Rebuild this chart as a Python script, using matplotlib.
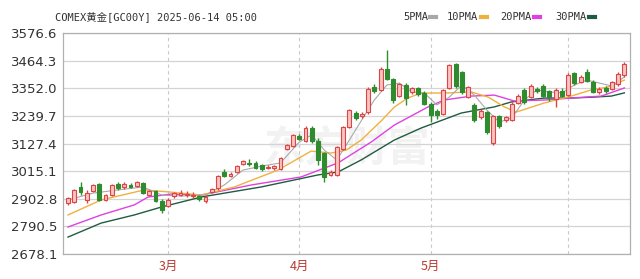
import matplotlib
matplotlib.use("Agg")
import matplotlib.pyplot as plt
from matplotlib.lines import Line2D
import numpy as np

# daily candles (index 0 = first visible day)
opens = [2885, 2890, 2951, 2898, 2934, 2962, 2898, 2918, 2963, 2950,
         2960, 2955, 2966, 2918, 2934, 2895, 2872, 2915, 2920, 2918,
         2915, 2915, 2892, 2930, 2945, 3010, 2996, 3012, 3043, 3048,
         3050, 3040, 3028, 3028, 3026, 3105, 3118, 3160, 3140, 3190,
         3140, 3090, 3000, 3000, 3105, 3195, 3252, 3238, 3256, 3360,
         3345, 3430, 3390, 3322, 3368, 3338, 3355, 3332, 3290, 3262,
         3250, 3354, 3450, 3420, 3318, 3284, 3235, 3256, 3130, 3238,
         3222, 3225, 3292, 3345, 3318, 3350, 3362, 3340, 3308, 3340,
         3325, 3415, 3380, 3420, 3380, 3336, 3352, 3350, 3370, 3406]
highs = [2912, 2943, 2972, 2939, 2963, 2966, 2922, 2963, 2970, 2973,
         2966, 2976, 2972, 2940, 2940, 2900, 2905, 2930, 2939, 2935,
         2932, 2920, 2918, 2946, 3000, 3024, 3010, 3042, 3060, 3065,
         3057, 3045, 3040, 3040, 3075, 3126, 3166, 3168, 3200, 3198,
         3152, 3095, 3020, 3118, 3200, 3268, 3262, 3256, 3356, 3370,
         3438, 3508, 3396, 3375, 3374, 3356, 3360, 3340, 3295, 3270,
         3350, 3452, 3456, 3425, 3362, 3292, 3268, 3262, 3246, 3244,
         3240, 3296, 3330, 3352, 3372, 3356, 3370, 3346, 3352, 3352,
         3414, 3420, 3408, 3430, 3386, 3356, 3364, 3384, 3418, 3460]
lows = [2876, 2886, 2918, 2885, 2930, 2894, 2894, 2914, 2938, 2944,
        2946, 2950, 2924, 2914, 2888, 2846, 2868, 2908, 2914, 2912,
        2908, 2893, 2886, 2926, 2940, 2993, 2992, 3008, 3040, 3038,
        3026, 3016, 3024, 3022, 3022, 3100, 3112, 3142, 3135, 3128,
        3042, 2970, 2995, 2996, 3100, 3190, 3225, 3232, 3250, 3334,
        3340, 3385, 3293, 3318, 3284, 3330, 3322, 3285, 3215, 3228,
        3244, 3348, 3355, 3330, 3312, 3215, 3228, 3168, 3122, 3192,
        3216, 3220, 3288, 3288, 3312, 3334, 3316, 3300, 3278, 3318,
        3320, 3366, 3374, 3378, 3332, 3330, 3334, 3346, 3364, 3400]
closes = [2905, 2939, 2931, 2926, 2959, 2898, 2918, 2959, 2945, 2962,
          2952, 2970, 2928, 2936, 2892, 2858, 2897, 2925, 2926, 2924,
          2920, 2900, 2910, 2942, 2995, 2997, 3003, 3036, 3056, 3045,
          3030, 3025, 3033, 3035, 3070, 3122, 3162, 3148, 3190, 3140,
          3060, 2990, 3012, 3113, 3195, 3264, 3232, 3250, 3350, 3340,
          3432, 3390, 3305, 3370, 3312, 3352, 3330, 3290, 3244, 3246,
          3345, 3446, 3362, 3336, 3358, 3224, 3260, 3175, 3240, 3200,
          3234, 3290, 3323, 3295, 3362, 3340, 3322, 3316, 3345, 3322,
          3405, 3374, 3398, 3384, 3338, 3348, 3340, 3378, 3412, 3452]

# moving average lines, read at sample points (x = candle index)
ma5_x = [0, 4, 8, 12, 15, 18, 22, 25, 28, 31, 34, 37, 39, 41, 43, 45, 47, 49,
         51, 53, 55, 57, 59, 61, 63, 65, 67, 69, 71, 73, 75, 77, 79, 81, 83,
         85, 87, 89]
ma5_y = [2898, 2926, 2939, 2951, 2918, 2914, 2918, 2959, 3020, 3036, 3049,
         3134, 3163, 3101, 3061, 3142, 3224, 3305, 3366, 3374, 3338, 3334,
         3285, 3317, 3366, 3325, 3264, 3215, 3232, 3305, 3346, 3338, 3334,
         3366, 3386, 3374, 3362, 3399]
ma10_x = [0, 5.3, 12.2, 16, 21.3, 26.6, 33.6, 38.9, 42.1, 44.5, 46.9, 50.1,
          52.2, 54.3, 56.5, 60.8, 64.5, 67.2, 69.8, 71.7, 76.2, 80.5, 83.7,
          86.4, 89]
ma10_y = [2837, 2898, 2939, 2931, 2918, 2951, 3020, 3097, 3089, 3101, 3142,
          3220, 3276, 3313, 3333, 3334, 3338, 3317, 3277, 3256, 3293, 3321,
          3346, 3358, 3386]
ma20_x = [0, 5.3, 10.6, 12.8, 16.5, 21.3, 29.3, 37.3, 43.2, 48.5, 52.2, 57.6,
          60.2, 64.5, 68.2, 71.4, 76.2, 80.5, 85.3, 89]
ma20_y = [2788, 2837, 2878, 2910, 2922, 2918, 2959, 2992, 3049, 3134, 3203,
          3277, 3305, 3321, 3325, 3301, 3305, 3313, 3321, 3354]
ma30_x = [0, 5.3, 10.6, 14.9, 21.3, 30.9, 40, 43.2, 46.9, 52.2, 56.5, 62.9,
          68.2, 70.9, 76.2, 80.5, 84.2, 86.9, 89]
ma30_y = [2747, 2804, 2837, 2869, 2910, 2951, 3000, 3012, 3061, 3142, 3191,
          3252, 3277, 3297, 3313, 3313, 3317, 3321, 3334]

yticks = [2678.1, 2790.5, 2902.8, 3015.1, 3127.4, 3239.7, 3352.0, 3464.3, 3576.6]
month_idx = [16, 37, 58, 80]
month_labels = ["3月", "4月", "5月"]

plt.rcParams['font.family'] = ['DejaVu Sans', 'Noto Sans CJK SC']

fig = plt.figure(figsize=(6.4, 2.79), dpi=100)
ax = fig.add_axes([63 / 640, 25 / 279, 567 / 640, 220.7 / 279])

# watermark
ax.text(0.5, 0.48, "东方财富", transform=ax.transAxes, ha='center', va='center',
        fontsize=30, color='#f2f2f2', family=['Noto Sans CJK SC'],
        fontweight='bold', zorder=0)

ax.set_ylim(yticks[0], yticks[-1])
ax.set_xlim(-0.8, 89.9)
ax.set_yticks(yticks)
ax.set_yticklabels([f"{v:.1f}" for v in yticks])
ax.grid(axis='y', color='#d4d4d4', linewidth=0.9, zorder=1)
for m in month_idx:
    ax.axvline(m, color='#c8c8c8', linestyle=(0, (3, 3)), linewidth=0.8, zorder=1)
ax.set_xticks(month_idx[:3])
ax.set_xticklabels(month_labels, color='#b83a30', fontsize=9,
                   family=['Noto Sans CJK SC'])
ax.tick_params(length=0, pad=4)
ax.tick_params(axis='y', labelsize=9.5, labelcolor='#333333', pad=4)
for s in ax.spines.values():
    s.set_color('#b0b0b0')
    s.set_linewidth(0.9)

# moving averages
ax.plot(ma30_x, ma30_y, color='#1f5c40', linewidth=1.0, zorder=2)
ax.plot(ma20_x, ma20_y, color='#e040e0', linewidth=1.0, zorder=2)
ax.plot(ma10_x, ma10_y, color='#f0b040', linewidth=1.0, zorder=2)
ax.plot(ma5_x, ma5_y, color='#a8a8a8', linewidth=0.8, zorder=2)

# candles
idx = np.arange(len(closes))
o = np.array(opens)
c = np.array(closes)
up = c >= o
colors = np.where(up, '#dd4444', '#2e8b2e')
faces = np.where(up, '#f8c4c4', '#2e8b2e')
ax.vlines(idx, lows, highs, colors=colors, linewidth=1.0, zorder=3)
body = np.maximum(np.abs(c - o), 3)
ax.bar(idx, body, bottom=np.minimum(o, c), width=0.62, color=faces,
       edgecolor=colors, linewidth=0.8, zorder=4)

# header
fig.text(55 / 640, 1 - 17 / 279, "COMEX黄金[GC00Y] 2025-06-14 05:00",
         fontsize=7.5, color='#333333', va='center',
         family=['DejaVu Sans Mono', 'Noto Sans CJK SC'])
legend_items = [("5PMA", 403, '#a8a8a8'), ("10PMA", 447, '#f0b040'),
                ("20PMA", 500, '#e040e0'), ("30PMA", 555, '#1f5c40')]
for name, px, col in legend_items:
    t = fig.text(px / 640, 1 - 17 / 279, name, fontsize=7.5, color='#333333',
                 va='center', family=['DejaVu Sans Mono'])
    w = len(name) * 6.1
    fig.add_artist(Line2D([(px + w + 3) / 640, (px + w + 9) / 640],
                          [1 - 17 / 279, 1 - 17 / 279], color=col, linewidth=3))

fig.savefig("out.png", dpi=100, facecolor='white')
